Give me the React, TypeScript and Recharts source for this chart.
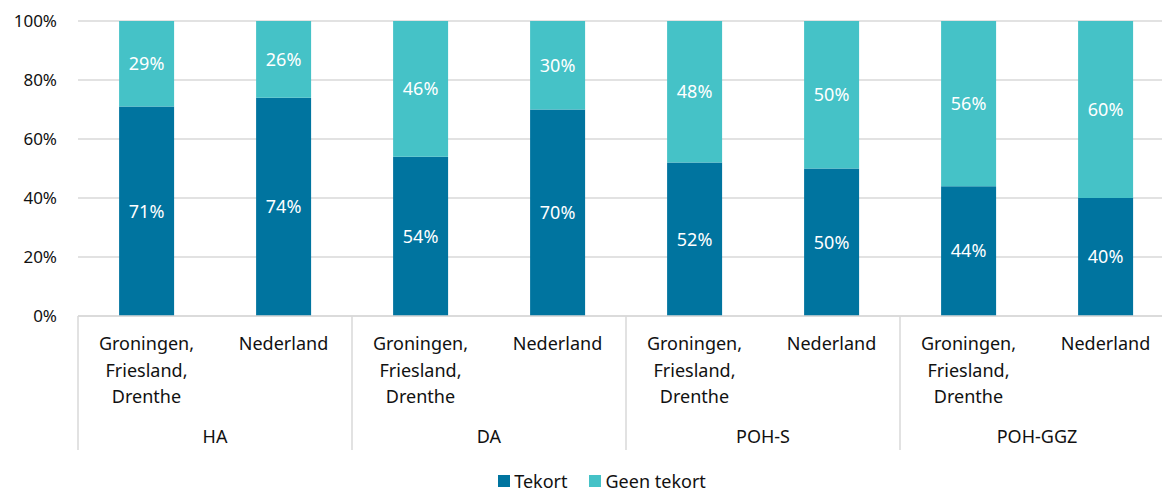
import { BarChart, Bar, XAxis, YAxis, CartesianGrid, Legend, LabelList } from "recharts";

const regions = [
  "Groningen,|Friesland,|Drenthe",
  "Nederland",
  "Groningen,|Friesland,|Drenthe",
  "Nederland",
  "Groningen,|Friesland,|Drenthe",
  "Nederland",
  "Groningen,|Friesland,|Drenthe",
  "Nederland",
];
const groups = ["HA", "HA", "DA", "DA", "POH-S", "POH-S", "POH-GGZ", "POH-GGZ"];
const tekort = [71, 74, 54, 70, 52, 50, 44, 40];
const geenTekort = [29, 26, 46, 30, 48, 50, 56, 60];
const yTicks = [0, 20, 40, 60, 80, 100];

const data = regions.map((r, i) => ({
  name: r,
  group: groups[i],
  tekort: tekort[i],
  geen: geenTekort[i],
}));

const DARK = "#00749f";
const LIGHT = "#45c2c7";
const GRID = "#d9d9d9";
const TEXT = "#111111";
const FONT = "'Noto Sans', sans-serif";
const HALF = 68.5; // half a category band

const RegionTick = (props: any) => {
  const { x, y, payload, index } = props;
  const lines = String(payload.value).split("|");
  const i = index ?? payload.index;
  return (
    <g>
      {lines.map((l, k) => (
        <text
          key={k}
          x={x}
          y={y + 27 + k * 26.5}
          textAnchor="middle"
          dominantBaseline="central"
          fill={TEXT}
          fontSize={18}
          fontFamily={FONT}
        >
          {l}
        </text>
      ))}
      {i % 2 === 0 && (
        <>
          <line x1={x - HALF} x2={x - HALF} y1={y} y2={y + 134} stroke={GRID} strokeWidth={1.5} />
          <text
            x={x + HALF}
            y={y + 120}
            textAnchor="middle"
            dominantBaseline="central"
            fill={TEXT}
            fontSize={18}
            fontFamily={FONT}
          >
            {groups[i]}
          </text>
        </>
      )}
      {i === regions.length - 1 && (
        <line x1={x + HALF} x2={x + HALF} y1={y} y2={y + 134} stroke={GRID} strokeWidth={1.5} />
      )}
    </g>
  );
};

const LegendContent = () => (
  <div
    style={{
      display: "flex",
      justifyContent: "center",
      alignItems: "center",
      height: 24,
      lineHeight: "24px",
      paddingLeft: 30,
      fontFamily: FONT,
      fontSize: 18,
      color: TEXT,
    }}
  >
    <span style={{ display: "inline-block", width: 12, height: 12, background: DARK, marginRight: 4 }} />
    <span style={{ marginRight: 21 }}>Tekort</span>
    <span style={{ display: "inline-block", width: 12, height: 12, background: LIGHT, marginRight: 5 }} />
    <span>Geen tekort</span>
  </div>
);

export default function App() {
  return (
    <div style={{ position: "absolute", left: 0, top: 0, width: 1162, height: 493, overflow: "hidden", background: "#fff" }}>
      <BarChart
        width={1174}
        height={493}
        data={data}
        margin={{ top: 21, right: 0, bottom: 0, left: 0 }}
        barCategoryGap="30%"
      >
        <CartesianGrid vertical={false} stroke={GRID} strokeWidth={1.5} />
        <XAxis
          dataKey="name"
          tick={<RegionTick />}
          tickLine={false}
          tickSize={0}
          tickMargin={0}
          axisLine={{ stroke: GRID, strokeWidth: 1.5 }}
          height={153}
          interval={0}
        />
        <YAxis
          domain={[0, 100]}
          ticks={yTicks}
          tickFormatter={(v: number) => `${v}%`}
          axisLine={false}
          tickLine={false}
          tickSize={0}
          tickMargin={21}
          width={78}
          tick={{ fill: TEXT, fontSize: 17, fontFamily: FONT }}
        />
        <Legend verticalAlign="bottom" content={<LegendContent />} wrapperStyle={{ left: 0, width: 1174, bottom: 0 }} />
        <Bar dataKey="tekort" stackId="a" fill={DARK} isAnimationActive={false}>
          <LabelList
            dataKey="tekort"
            position="center"
            formatter={(v: any) => `${v}%`}
            fill="#ffffff"
            fontSize={18}
            fontFamily={FONT}
          />
        </Bar>
        <Bar dataKey="geen" stackId="a" fill={LIGHT} isAnimationActive={false}>
          <LabelList
            dataKey="geen"
            position="center"
            formatter={(v: any) => `${v}%`}
            fill="#ffffff"
            fontSize={18}
            fontFamily={FONT}
          />
        </Bar>
      </BarChart>
    </div>
  );
}
